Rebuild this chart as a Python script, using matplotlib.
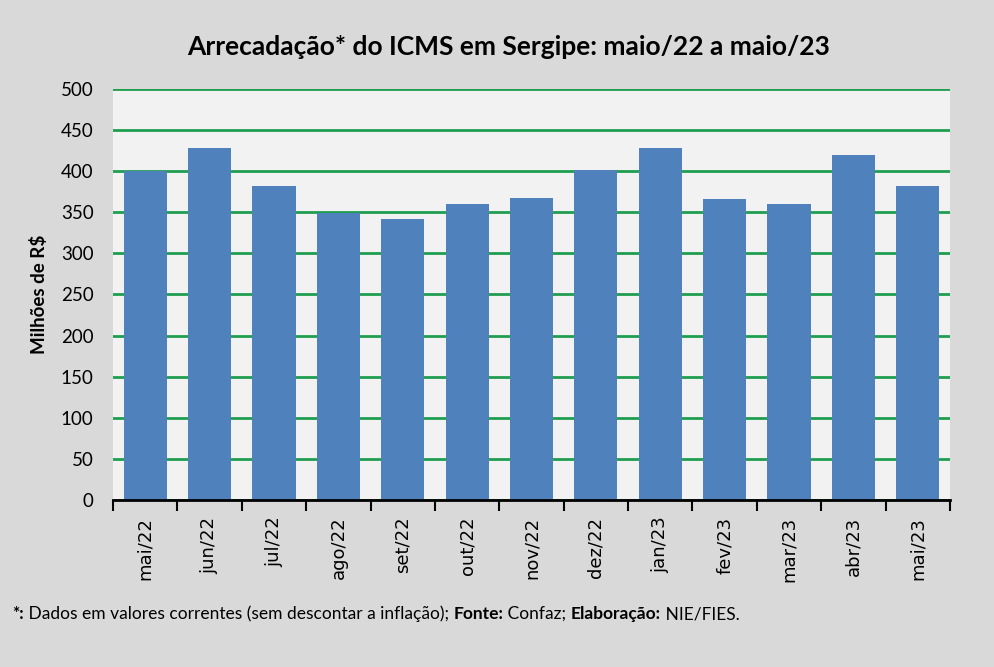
import numpy as np
import matplotlib.pyplot as plt

meses = ['mai/22', 'jun/22', 'jul/22', 'ago/22', 'set/22', 'out/22', 'nov/22',
         'dez/22', 'jan/23', 'fev/23', 'mar/23', 'abr/23', 'mai/23']
icms = [400, 428, 382, 349, 342, 360, 367, 402, 428, 366, 360, 420, 382]
yticks = list(range(0, 501, 50))

plt.rcParams['font.family'] = ['Lato', 'DejaVu Sans']

fig = plt.figure(figsize=(9.95, 6.67), dpi=100, facecolor='#d9d9d9')
ax = fig.add_axes([0.1136, 0.2504, 0.8412, 0.6162])
ax.set_facecolor('#f2f2f2')

x = np.arange(len(meses))
ax.bar(x, icms, width=0.67, color='#4f81bd', zorder=3)
ax.set_xlim(-0.5, len(meses) - 0.5)
ax.set_ylim(0, 500)
ax.set_yticks(yticks)
ax.set_yticklabels([str(v) for v in yticks], fontsize=13.5)
ax.yaxis.grid(True, color='#1f9e4f', linewidth=2, zorder=1)
ax.tick_params(axis='y', length=0, pad=14)

# ticks at category boundaries
ax.set_xticks(np.arange(-0.5, len(meses)), minor=False)
ax.set_xticklabels([])
ax.set_xticks(x, minor=True)
ax.set_xticklabels(meses, minor=True, rotation=90, fontsize=13,
                   family='DejaVu Sans')
ax.tick_params(axis='x', which='major', length=8, width=1.5, direction='out', color='black')
ax.tick_params(axis='x', which='minor', length=0, pad=12)

for s in ['top', 'right', 'left']:
    ax.spines[s].set_visible(False)
ax.spines['bottom'].set_linewidth(2)
ax.spines['bottom'].set_zorder(4)

ax.set_ylabel('Milhões de R$', fontsize=13.5, fontweight='bold')
ax.yaxis.set_label_coords(-0.078, 0.5)
fig.text(0.511, 0.93, 'Arrecadação* do ICMS em Sergipe: maio/22 a maio/23',
         ha='center', va='center', fontsize=19, fontweight='bold')

# footnote with mixed weights
parts = [('*:', 'bold'), (' Dados em valores correntes (sem descontar a inflação); ', 'normal'),
         ('Fonte:', 'bold'), (' Confaz; ', 'normal'), ('Elaboração:', 'bold'), (' NIE/FIES.', 'normal')]
fig.canvas.draw()
r = fig.canvas.get_renderer()
xpos = 12
for txt, w in parts:
    t = fig.text(xpos / 995, 1 - 614 / 667, txt, fontsize=12.5, fontweight=w,
                 ha='left', va='center')
    bb = t.get_window_extent(renderer=r)
    xpos += bb.width

fig.savefig('out.png', dpi=100, facecolor=fig.get_facecolor())
